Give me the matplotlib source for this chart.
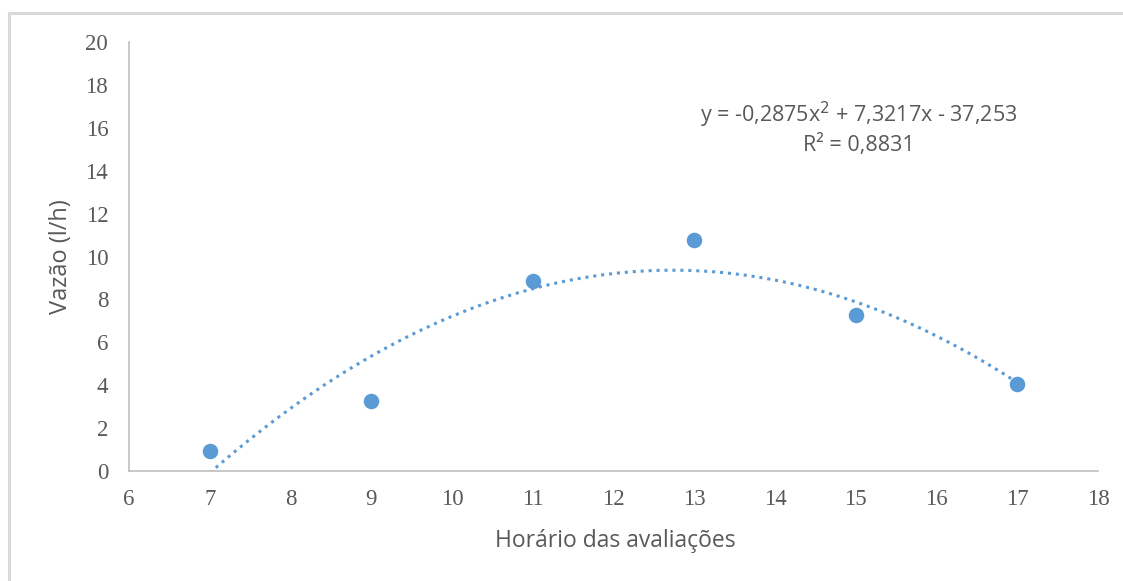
import numpy as np
import matplotlib
matplotlib.use("Agg")
import matplotlib.pyplot as plt
from matplotlib.lines import Line2D

# Data
horario = [7, 9, 11, 13, 15, 17]
vazao = [0.93, 3.26, 8.86, 10.77, 7.27, 4.06]
coef = [-0.2875, 7.3217, -37.253]
eq_text = "y = -0,2875x$^2$ + 7,3217x - 37,253\nR² = 0,8831"
x_ticks = [6, 7, 8, 9, 10, 11, 12, 13, 14, 15, 16, 17, 18]
y_ticks = [0, 2, 4, 6, 8, 10, 12, 14, 16, 18, 20]

blue = "#5b9bd5"
gray_txt = "#595959"

fig = plt.figure(figsize=(11.23, 5.81), dpi=100)
ax = fig.add_axes([0.1149, 0.1893, 0.9777 - 0.1149, 0.9277 - 0.1893])

xs = np.linspace(horario[0], horario[-1], 300)
ys = np.polyval(coef, xs)
ax.plot(xs, ys, linestyle=(0, (1, 1.6)), color=blue, linewidth=2.2, zorder=2)
ax.scatter(horario, vazao, s=125, color=blue, zorder=3, linewidths=0)

ax.set_xlim(6, 18)
ax.set_ylim(0, 20)
ax.set_xticks(x_ticks)
ax.set_yticks(y_ticks)
ax.tick_params(length=0, labelsize=16.5, labelcolor=gray_txt)
for lab in ax.get_xticklabels() + ax.get_yticklabels():
    lab.set_family("Liberation Serif")
ax.tick_params(axis="x", pad=13)
ax.tick_params(axis="y", pad=15)

for s in ["top", "right"]:
    ax.spines[s].set_visible(False)
for s in ["left", "bottom"]:
    ax.spines[s].set_color("#bfbfbf")
    ax.spines[s].set_linewidth(1.2)

ax.text(15.04, 16.0, eq_text, ha="center", va="center", fontsize=15.5,
        color=gray_txt, family="Open Sans", linespacing=1.2)

fig.text(0.5476, 0.069, "Horário das avaliações", ha="center", va="center",
         fontsize=16.5, color=gray_txt, family="Open Sans")
fig.text(0.054, 0.558, "Vazão (l/h)", ha="center", va="center", rotation=90,
         fontsize=17, color=gray_txt, family="Open Sans")

# light frame (top and left edges visible)
fig.add_artist(Line2D([9/1123, 9/1123], [0, 1 - 13/581], transform=fig.transFigure,
                      color="#d9d9d9", linewidth=2.2))
fig.add_artist(Line2D([9/1123, 1.0], [1 - 13/581, 1 - 13/581], transform=fig.transFigure,
                      color="#d9d9d9", linewidth=2.2))

fig.savefig("out.png", dpi=100)
